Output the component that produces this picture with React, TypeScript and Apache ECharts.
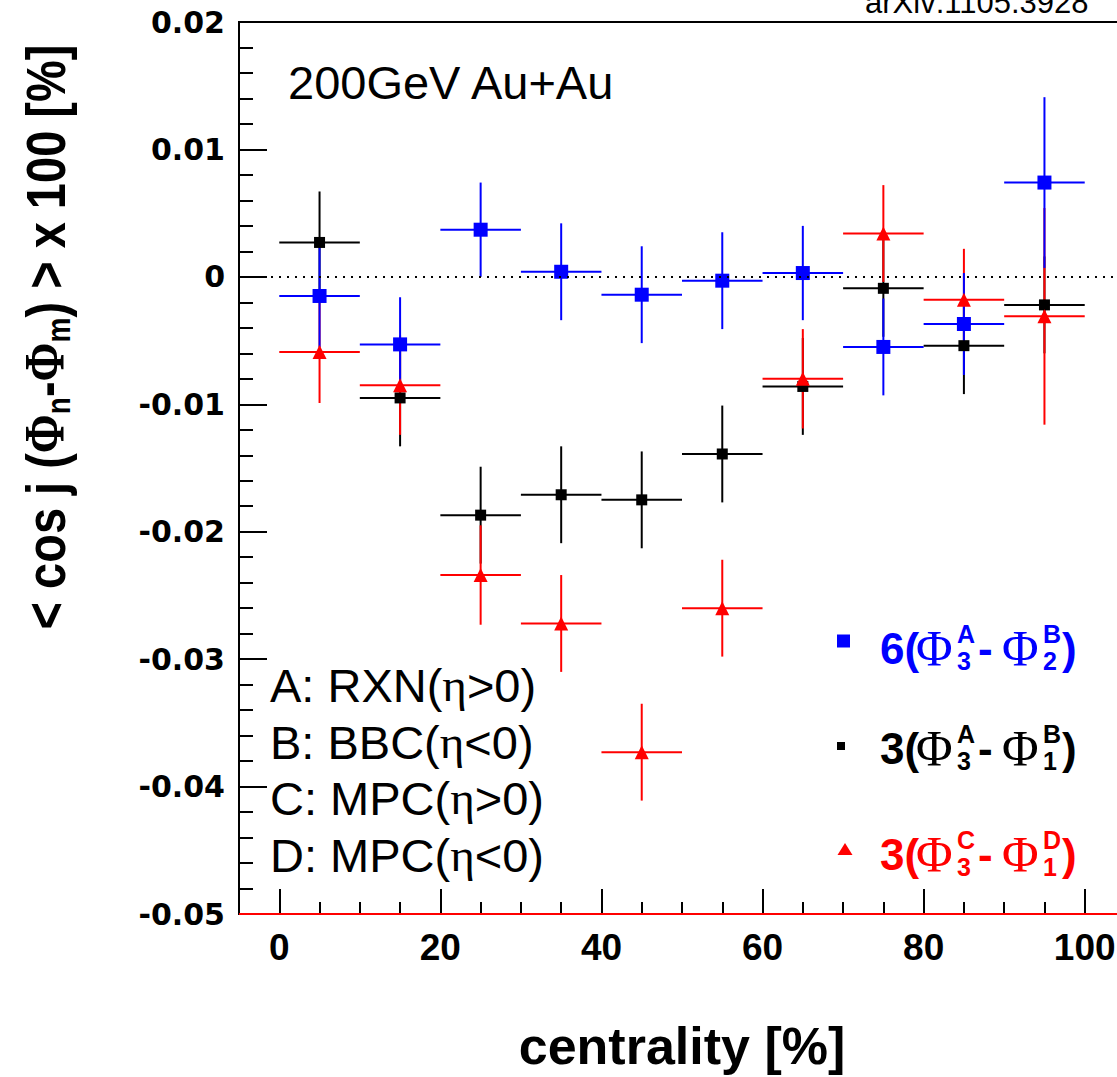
import React, { useEffect, useRef } from "react";
import * as echarts from "echarts";

// ---- data ----
const centrality = [5, 15, 25, 35, 45, 55, 65, 75, 85, 95];
const binHalfWidth = [5, 5, 5, 5, 5, 5, 5, 5, 5, 5];

// 6(Phi3A - Phi2B)  (blue squares)
const blueValues = [-0.0015, -0.0053, 0.0037, 0.0004, -0.0014, -0.0003, 0.0003, -0.0055, -0.0037, 0.0074];
const blueErrors = [0.0040, 0.0037, 0.0037, 0.0038, 0.0038, 0.0038, 0.0037, 0.0038, 0.0040, 0.0067];

// 3(Phi3A - Phi1B)  (black squares)
const blackValues = [0.0027, -0.0095, -0.0187, -0.0171, -0.0175, -0.0139, -0.0086, -0.0009, -0.0054, -0.0022];
const blackErrors = [0.0040, 0.0038, 0.0038, 0.0038, 0.0038, 0.0038, 0.0038, 0.0038, 0.0038, 0.0038];

// 3(Phi3C - Phi1D)  (red triangles)
const redValues = [-0.0059, -0.0085, -0.0234, -0.0272, -0.0373, -0.0260, -0.0080, 0.0034, -0.0018, -0.0031];
const redErrors = [0.0040, 0.0039, 0.0039, 0.0038, 0.0038, 0.0038, 0.0039, 0.0038, 0.0040, 0.0085];

const xMajorTicks = [0, 20, 40, 60, 80, 100];
const xMinorTicks = [5, 10, 15, 25, 30, 35, 45, 50, 55, 65, 70, 75, 85, 90, 95];

const SANS = "'Liberation Sans', Arial, Helvetica, sans-serif";
const SERIF = "'Liberation Serif', 'Times New Roman', serif";

function errorSeries(name: string, vals: number[], errs: number[], color: string, extra: any = {}) {
  return {
    name,
    type: "custom",
    dimensions: ["x", "y", "ex", "ey"],
    encode: { x: 0, y: 1 },
    data: centrality.map((c, i) => [c, vals[i], binHalfWidth[i], errs[i]]),
    renderItem: (params: any, api: any) => {
      const x = api.value(0);
      const y = api.value(1);
      const ex = api.value(2);
      const ey = api.value(3);
      const l = api.coord([x - ex, y]);
      const r = api.coord([x + ex, y]);
      const t = api.coord([x, y + ey]);
      const b = api.coord([x, y - ey]);
      const style = { stroke: color, lineWidth: 2 };
      return {
        type: "group",
        children: [
          { type: "line", shape: { x1: l[0], y1: l[1], x2: r[0], y2: r[1] }, style },
          { type: "line", shape: { x1: t[0], y1: t[1], x2: b[0], y2: b[1] }, style },
        ],
      };
    },
    ...extra,
  };
}

function pointSeries(name: string, vals: number[], color: string, symbol: string, size: number) {
  return {
    name,
    type: "scatter",
    data: centrality.map((c, i) => [c, vals[i]]),
    symbol,
    symbolSize: size,
    itemStyle: { color, opacity: 1 },
  };
}

function legendRow(y: number, color: string, prefix: string, sup1: string, sub1: string, sup2: string, sub2: string) {
  const main = { fill: color, fontFamily: SANS, fontWeight: "bold", fontSize: 44, verticalAlign: "middle", align: "left" };
  const phi = { fill: color, fontFamily: SERIF, fontSize: 50, verticalAlign: "middle", align: "left" };
  const small = { fill: color, fontFamily: SANS, fontWeight: "bold", fontSize: 25, verticalAlign: "middle", align: "left" };
  return [
    { type: "text", x: 880, y, style: { ...main, text: prefix } },
    { type: "text", x: 916, y, style: { ...phi, text: "Φ" } },
    { type: "text", x: 957, y: y - 14, style: { ...small, text: sup1 } },
    { type: "text", x: 957, y: y + 13, style: { ...small, text: sub1 } },
    { type: "text", x: 978, y, style: { ...main, text: "-" } },
    { type: "text", x: 1002, y, style: { ...phi, text: "Φ" } },
    { type: "text", x: 1043, y: y - 14, style: { ...small, text: sup2 } },
    { type: "text", x: 1043, y: y + 13, style: { ...small, text: sub2 } },
    { type: "text", x: 1062, y, style: { ...main, text: ")" } },
  ];
}

export default function App() {
  const ref = useRef<HTMLDivElement>(null);

  useEffect(() => {
    if (!ref.current) return;
    const chart = echarts.init(ref.current, undefined, { renderer: "svg" });

    const annot = (t1: string, t2: string, y: number) => ({
      type: "text",
      x: 270,
      y,
      style: {
        text: `{a|${t1}}{e|η}{a|${t2}}`,
        verticalAlign: "middle",
        align: "left",
        rich: {
          a: { fontFamily: SANS, fontSize: 47, fill: "#000", color: "#000" },
          e: { fontFamily: SERIF, fontSize: 47, fill: "#000", color: "#000" },
        },
      },
    });

    const option: any = {
      animation: false,
      backgroundColor: "#fff",
      grid: {
        show: true,
        left: 239,
        top: 22,
        right: 15,
        bottom: 161,
        borderColor: "#000",
        borderWidth: 2,
        containLabel: false,
      },
      xAxis: [
        {
          type: "value",
          min: -5,
          max: 105,
          position: "bottom",
          axisLine: { show: true, onZero: false, lineStyle: { color: "#000", width: 2 } },
          axisTick: { show: true, inside: true, length: 25, customValues: xMajorTicks, lineStyle: { color: "#000", width: 2 } },
          axisLabel: {
            customValues: xMajorTicks,
            fontFamily: SANS,
            fontWeight: "bold",
            fontSize: 37,
            color: "#000",
            margin: 15,
          },
          splitLine: { show: false },
          name: "centrality [%]",
          nameLocation: "middle",
          nameGap: 106,
          nameTextStyle: { fontFamily: SANS, fontWeight: "bold", fontSize: 52, color: "#000" },
        },
        {
          type: "value",
          min: -5,
          max: 105,
          position: "bottom",
          axisLine: { show: false, onZero: false },
          axisTick: { show: true, inside: true, length: 12, customValues: xMinorTicks, lineStyle: { color: "#000", width: 2 } },
          axisLabel: { show: false },
          splitLine: { show: false },
        },
      ],
      yAxis: {
        type: "value",
        min: -0.05,
        max: 0.02,
        interval: 0.01,
        axisLine: { show: true, onZero: false, lineStyle: { color: "#000", width: 2 } },
        axisTick: { show: true, inside: true, length: 28, lineStyle: { color: "#000", width: 2 } },
        minorTick: { show: true, splitNumber: 5, length: 14, lineStyle: { color: "#000", width: 2 } },
        axisLabel: {
          fontFamily: "'DejaVu Sans', sans-serif",
          fontWeight: "bold",
          fontSize: 30,
          color: "#000",
          margin: 14,
          formatter: (v: number) => (Math.abs(v) < 1e-9 ? "0" : v.toFixed(2)),
        },
        splitLine: { show: false },
        minorSplitLine: { show: false },
      },
      series: [
        errorSeries("3(Φ3A-Φ1B) err", blackValues, blackErrors, "#000", {
          markLine: {
            silent: true,
            symbol: ["none", "none"],
            label: { show: false },
            data: [
              { yAxis: 0, lineStyle: { type: [2, 6], color: "#000", width: 2 } },
              { yAxis: -0.05, lineStyle: { type: "solid", color: "#ff0000", width: 2 } },
            ],
          },
        }),
        pointSeries("3(Φ3A-Φ1B)", blackValues, "#000", "rect", 11),
        errorSeries("3(Φ3C-Φ1D) err", redValues, redErrors, "#ff0000"),
        pointSeries("3(Φ3C-Φ1D)", redValues, "#ff0000", "triangle", 14),
        errorSeries("6(Φ3A-Φ2B) err", blueValues, blueErrors, "#0000ff"),
        pointSeries("6(Φ3A-Φ2B)", blueValues, "#0000ff", "rect", 14),
      ],
      graphic: [
        {
          type: "text",
          x: 865,
          y: 2,
          style: { text: "arXiv:1105.3928", fontFamily: SANS, fontSize: 31, fill: "#000", verticalAlign: "middle", align: "left" },
        },
        {
          type: "text",
          x: 288,
          y: 82,
          style: { text: "200GeV Au+Au", fontFamily: SANS, fontSize: 47, fill: "#000", verticalAlign: "middle", align: "left" },
        },
        annot("A: RXN(", ">0)", 685),
        annot("B: BBC(", "<0)", 742),
        annot("C: MPC(", ">0)", 798),
        annot("D: MPC(", "<0)", 855),
        {
          type: "text",
          x: 45,
          y: 337,
          rotation: Math.PI / 2,
          scaleY: 1.2,
          style: {
            text: "{b|< cos j (}{p|Φ}{s|n}{b|-}{p|Φ}{s|m}{b|) > x 100 [%]}",
            align: "center",
            verticalAlign: "middle",
            rich: {
              b: { fontFamily: SANS, fontWeight: "bold", fontSize: 47, fill: "#000", color: "#000", lineHeight: 50, verticalAlign: "middle" },
              p: { fontFamily: SERIF, fontWeight: "bold", fontSize: 47, fill: "#000", color: "#000", lineHeight: 50, verticalAlign: "middle" },
              s: { fontFamily: SANS, fontWeight: "bold", fontSize: 28, fill: "#000", color: "#000", lineHeight: 30, verticalAlign: "bottom" },
            },
          },
        },
        { type: "rect", shape: { x: 837, y: 634.5, width: 13, height: 13 }, style: { fill: "#0000ff" } },
        { type: "rect", shape: { x: 837, y: 742, width: 8, height: 8 }, style: { fill: "#000" } },
        { type: "polygon", shape: { points: [[837.5, 855], [852.5, 855], [845, 843]] }, style: { fill: "#ff0000" } },
        ...legendRow(648, "#0000ff", "6(", "A", "3", "B", "2"),
        ...legendRow(748, "#000000", "3(", "A", "3", "B", "1"),
        ...legendRow(854, "#ff0000", "3(", "C", "3", "D", "1"),
      ],
    };

    chart.setOption(option);
    return () => chart.dispose();
  }, []);

  return (
    <div style={{ position: "absolute", left: 0, top: 0, width: 1117, height: 1077, overflow: "hidden", background: "#fff" }}>
      <div ref={ref} style={{ width: 1140, height: 1077 }} />
    </div>
  );
}
